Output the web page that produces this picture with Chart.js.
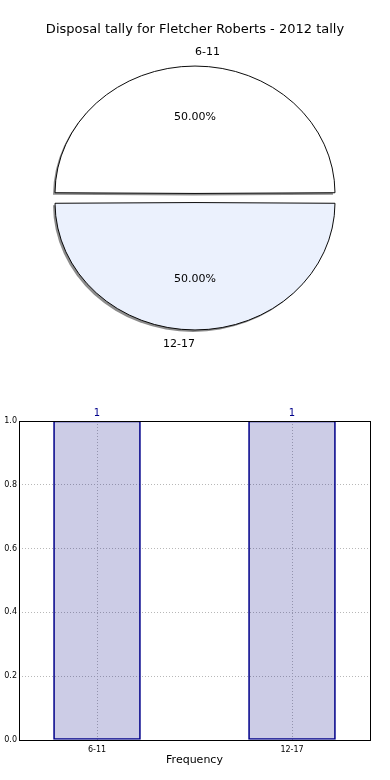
<!DOCTYPE html>
<html lang="en-US">
<head>
  <meta charset="utf-8">
  <title>Disposal tally</title>
  <script src="https://cdn.jsdelivr.net/npm/chart.js@4.4.1/dist/chart.umd.min.js"></script>
  <style>
    body { margin: 0; background: #fff; }
    #pieBox { position: absolute; left: 0; top: 0; width: 390px; height: 380px; }
    #barBox { position: absolute; left: 0; top: 380px; width: 390px; height: 400px; }
  </style>
</head>
<body>
  <div id="pieBox"><canvas id="pie"></canvas></div>
  <div id="barBox"><canvas id="bar"></canvas></div>
  <script>
    const titleText = 'Disposal tally for Fletcher Roberts - 2012 tally';
    const categories = ['6-11', '12-17'];
    const counts = [1, 1];
    const yTicks = [0, 0.2, 0.4, 0.6, 0.8, 1.0];
    const xAxisTitle = 'Frequency';

    const FONT = "'DejaVu Sans', sans-serif";
    Chart.defaults.font.family = FONT;
    Chart.defaults.color = '#000';

    // squash the pie a little vertically, like the original
    const SY = 0.91;
    const labelAlign = ['left', 'right'];

    const squashPlugin = {
      id: 'squash',
      beforeDatasetsDraw(chart) {
        const arc = chart.getDatasetMeta(0).data[0];
        const ctx = chart.ctx;
        ctx.save();
        ctx.translate(arc.x, arc.y);
        ctx.scale(1, SY);
        ctx.translate(-arc.x, -arc.y);
        ctx.shadowColor = 'rgba(0,0,0,0.45)';
        ctx.shadowOffsetX = -2;
        ctx.shadowOffsetY = 2;
        ctx.shadowBlur = 0;
        // shadow only under the fill, not under the outline
        const origStroke = ctx.stroke;
        ctx.stroke = function () {
          const c = this.shadowColor;
          this.shadowColor = 'transparent';
          origStroke.apply(this, arguments);
          this.shadowColor = c;
        };
      },
      afterDatasetsDraw(chart) {
        chart.ctx.restore();
        delete chart.ctx.stroke;
      },
      afterDraw(chart) {
        const ctx = chart.ctx;
        const meta = chart.getDatasetMeta(0);
        const total = counts.reduce((a, b) => a + b, 0);
        ctx.save();
        ctx.fillStyle = '#000';
        ctx.font = '11px ' + FONT;
        ctx.textBaseline = 'middle';
        meta.data.forEach((arc, i) => {
          const mid = (arc.startAngle + arc.endAngle) / 2;
          const off = arc.options.offset / 4;
          const R = arc.outerRadius + off;
          const pos = f => [arc.x + Math.cos(mid) * (off + f * R), arc.y + SY * Math.sin(mid) * (off + f * R)];
          const [px, py] = pos(0.6);
          ctx.textAlign = 'center';
          ctx.fillText((counts[i] / total * 100).toFixed(2) + '%', px, py);
          const [lx, ly] = pos(1.11);
          ctx.textAlign = labelAlign[i];
          ctx.fillText(categories[i], lx, ly);
        });
        ctx.restore();
      }
    };

    new Chart(document.getElementById('pie'), {
      type: 'pie',
      data: {
        labels: categories,
        datasets: [{
          data: counts,
          backgroundColor: ['#ffffff', '#ebf1fd'],
          borderColor: '#000',
          borderWidth: 1,
          offset: 20,
          radius: 135
        }]
      },
      options: {
        responsive: true,
        maintainAspectRatio: false,
        animation: false,
        rotation: -90,
        layout: { padding: { top: 0, bottom: 32, left: 40, right: 40 } },
        plugins: {
          legend: { display: false },
          tooltip: { enabled: false },
          title: {
            display: true,
            text: titleText,
            color: '#000',
            font: { size: 13, weight: 'normal', family: FONT },
            padding: { top: 22, bottom: 10.4 }
          }
        }
      },
      plugins: [squashPlugin]
    });

    const barExtras = {
      id: 'barExtras',
      afterDraw(chart) {
        const ctx = chart.ctx;
        const a = chart.chartArea;
        ctx.save();
        ctx.strokeStyle = '#000';
        ctx.lineWidth = 1;
        ctx.strokeRect(Math.round(a.left) + 0.5, Math.round(a.top) + 0.5, Math.round(a.right - a.left), Math.round(a.bottom - a.top));
        ctx.fillStyle = '#00008b';
        ctx.font = '10px ' + FONT;
        ctx.textAlign = 'center';
        ctx.textBaseline = 'middle';
        chart.getDatasetMeta(0).data.forEach((bar, i) => {
          ctx.fillText(String(counts[i]), bar.x, bar.y - 8);
        });
        ctx.restore();
      }
    };

    new Chart(document.getElementById('bar'), {
      type: 'bar',
      data: {
        datasets: [{
          data: counts.map((v, i) => ({ x: i, y: v })),
          backgroundColor: 'rgba(0,0,128,0.2)',
          borderColor: '#00008b',
          borderWidth: 1,
          borderSkipped: false,
          barThickness: 87
        }]
      },
      options: {
        responsive: true,
        maintainAspectRatio: false,
        animation: false,
        layout: { padding: { top: 41, bottom: 0, left: 0, right: 20 } },
        plugins: { legend: { display: false }, tooltip: { enabled: false } },
        scales: {
          x: {
            type: 'linear',
            offset: false,
            min: -0.4,
            max: 1.4,
            afterBuildTicks: s => { s.ticks = categories.map((c, i) => ({ value: i })); },
            afterFit: s => { s.height = 40; },
            ticks: {
              callback: v => categories[v],
              font: { size: 8 },
              color: '#000',
              padding: 5,
              maxRotation: 0
            },
            grid: { color: '#b8b8b8', drawTicks: false, offset: false },
            border: { display: false, dash: [1, 2] },
            title: {
              display: true,
              text: xAxisTitle,
              color: '#000',
              font: { size: 11 },
              padding: { top: 0, bottom: 13.4 }
            }
          },
          y: {
            min: 0,
            max: 1,
            afterBuildTicks: s => { s.ticks = yTicks.map(v => ({ value: v })); },
            afterFit: s => { s.width = 19; },
            ticks: {
              callback: v => v.toFixed(1),
              font: { size: 8 },
              color: '#000',
              padding: 2
            },
            grid: { color: '#b8b8b8', drawTicks: false },
            border: { display: false, dash: [1, 2] }
          }
        }
      },
      plugins: [barExtras]
    });
  </script>
</body>
</html>
